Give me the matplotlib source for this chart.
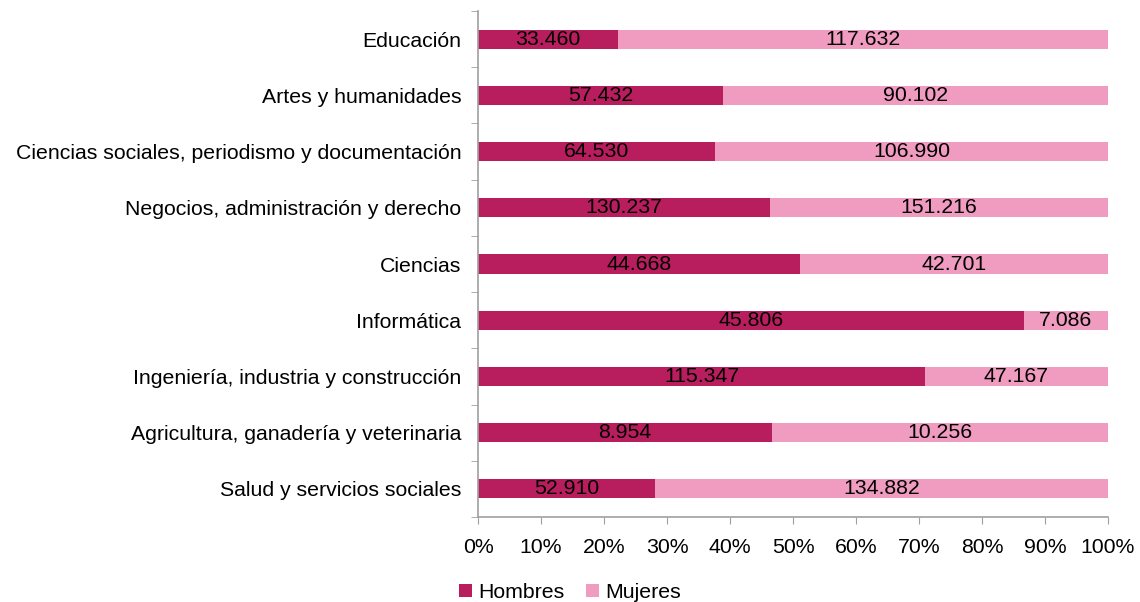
import numpy as np
import matplotlib.pyplot as plt
from matplotlib.ticker import FixedLocator, PercentFormatter

plt.rcParams['font.family'] = ['Liberation Sans', 'DejaVu Sans']

# data (top to bottom as in the picture)
categorias = ["Educación", "Artes y humanidades",
              "Ciencias sociales, periodismo y documentación",
              "Negocios, administración y derecho", "Ciencias", "Informática",
              "Ingeniería, industria y construcción",
              "Agricultura, ganadería y veterinaria", "Salud y servicios sociales"]
hombres = [33460, 57432, 64530, 130237, 44668, 45806, 115347, 8954, 52910]
mujeres = [117632, 90102, 106990, 151216, 42701, 7086, 47167, 10256, 134882]

def fmt(v):
    return f"{v:,}".replace(",", ".")

h = np.array(hombres, dtype=float)
m = np.array(mujeres, dtype=float)
tot = h + m
ph = h / tot * 100
pm = m / tot * 100
y = np.arange(len(categorias))

fs = 15.3

fig = plt.figure(figsize=(11.4, 6.02), dpi=100)
ax = fig.add_axes([0.4193, 0.1412, 0.5526, 0.8405])

dark = "#B81D5E"
light = "#F09BC0"
ax.barh(y, ph, height=0.34, color=dark, label="Hombres")
ax.barh(y, pm, left=ph, height=0.34, color=light, label="Mujeres")

for i in range(len(y)):
    ax.text(ph[i] / 2, y[i], fmt(hombres[i]), ha="center", va="center", fontsize=fs)
    ax.text(ph[i] + pm[i] / 2, y[i], fmt(mujeres[i]), ha="center", va="center", fontsize=fs)

ax.set_ylim(len(y) - 0.5, -0.5)
ax.set_xlim(0, 100)
ax.set_yticks(y)
ax.set_yticklabels(categorias, fontsize=fs)
ax.yaxis.set_minor_locator(FixedLocator(np.arange(-0.5, len(y), 1)))
ax.tick_params(axis="y", which="major", length=0, pad=12)
ax.tick_params(axis="y", which="minor", length=5, color="#A0A0A0")
ax.set_xticks(np.arange(0, 101, 10))
ax.xaxis.set_major_formatter(PercentFormatter(decimals=0))
ax.tick_params(axis="x", length=5, color="#A0A0A0", labelsize=fs, pad=10)

for s in ["top", "right"]:
    ax.spines[s].set_visible(False)
for s in ["left", "bottom"]:
    ax.spines[s].set_color("#A0A0A0")
    ax.spines[s].set_linewidth(1.2)

fig.legend(loc="lower center", bbox_to_anchor=(0.5, -0.032), ncol=2, frameon=False,
           fontsize=fs, handlelength=0.6, handleheight=0.6, handletextpad=0.3,
           columnspacing=1.0)

fig.savefig("out.png", dpi=100)
